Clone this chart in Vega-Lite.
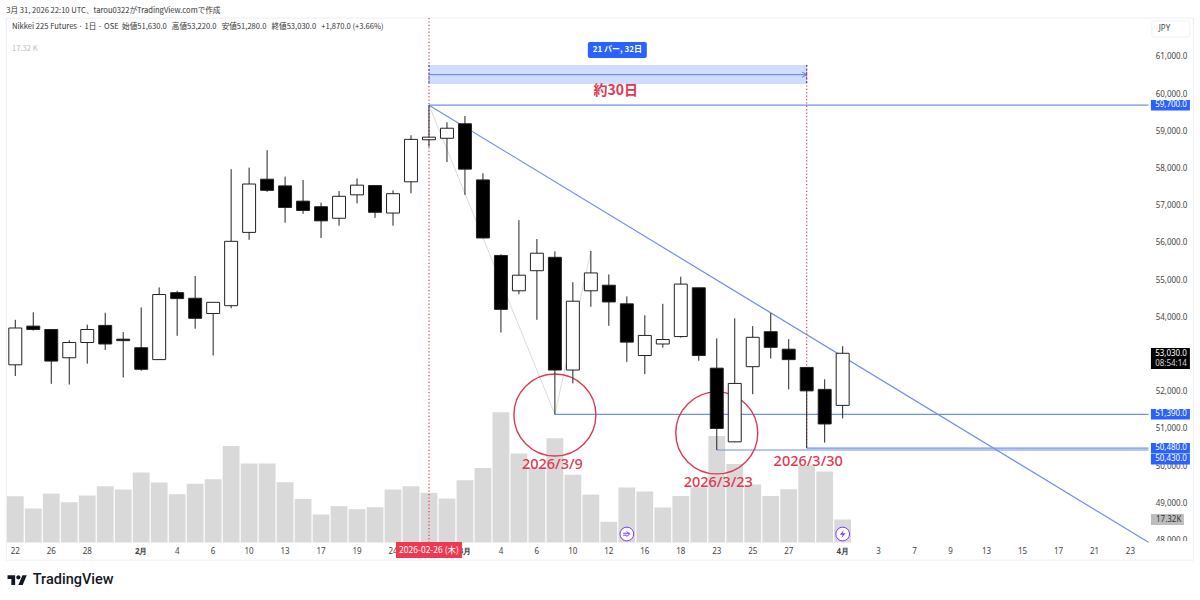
{
  "$schema": "https://vega.github.io/schema/vega-lite/v6.json",
  "width": 1187.1,
  "height": 524.5,
  "autosize": "none",
  "padding": {"left": 6.3, "top": 18, "right": 6.6, "bottom": 57.5},
  "background": "#ffffff",
  "config": {
    "view": {"stroke": null},
    "font": "Noto Sans",
    "text": {"font": "Noto Sans CJK JP"}
  },
  "title": {
    "text": "3月 31, 2026 22:10 UTC、tarou0322がTradingView.comで作成",
    "anchor": "start",
    "frame": "group",
    "offset": 3,
    "font": "Noto Sans CJK JP",
    "fontSize": 7.6,
    "fontWeight": "normal",
    "color": "#333333"
  },
  "datasets": {
    "candles": [
      {"date": "2026-01-22", "open": 52720, "high": 53930, "low": 52420, "close": 53710, "volume": 34.9},
      {"date": "2026-01-23", "open": 53760, "high": 54130, "low": 53640, "close": 53670, "volume": 25.6},
      {"date": "2026-01-26", "open": 53670, "high": 53680, "low": 52210, "close": 52820, "volume": 36.9},
      {"date": "2026-01-27", "open": 52910, "high": 53380, "low": 52190, "close": 53320, "volume": 30.4},
      {"date": "2026-01-28", "open": 53320, "high": 53800, "low": 52750, "close": 53670, "volume": 35.4},
      {"date": "2026-01-29", "open": 53780, "high": 54120, "low": 53120, "close": 53280, "volume": 42.4},
      {"date": "2026-01-30", "open": 53410, "high": 53600, "low": 52380, "close": 53370, "volume": 39.9},
      {"date": "2026-02-02", "open": 53180, "high": 54260, "low": 52560, "close": 52600, "volume": 52.7},
      {"date": "2026-02-03", "open": 52860, "high": 54800, "low": 52850, "close": 54610, "volume": 45.2},
      {"date": "2026-02-04", "open": 54660, "high": 54710, "low": 53500, "close": 54500, "volume": 36.4},
      {"date": "2026-02-05", "open": 54510, "high": 55110, "low": 53690, "close": 53970, "volume": 44.2},
      {"date": "2026-02-06", "open": 54100, "high": 54400, "low": 52970, "close": 54400, "volume": 47.7},
      {"date": "2026-02-09", "open": 54310, "high": 57980, "low": 54240, "close": 56040, "volume": 72.8},
      {"date": "2026-02-10", "open": 56280, "high": 58020, "low": 56080, "close": 57580, "volume": 59.5},
      {"date": "2026-02-12", "open": 57710, "high": 58490, "low": 57370, "close": 57410, "volume": 59.5},
      {"date": "2026-02-13", "open": 57530, "high": 57780, "low": 56540, "close": 56950, "volume": 45.4},
      {"date": "2026-02-16", "open": 57120, "high": 57690, "low": 56780, "close": 56870, "volume": 32.9},
      {"date": "2026-02-17", "open": 56970, "high": 57080, "low": 56130, "close": 56590, "volume": 21.1},
      {"date": "2026-02-18", "open": 56660, "high": 57390, "low": 56460, "close": 57250, "volume": 27.4},
      {"date": "2026-02-19", "open": 57290, "high": 57730, "low": 57060, "close": 57550, "volume": 25.1},
      {"date": "2026-02-20", "open": 57540, "high": 57550, "low": 56670, "close": 56820, "volume": 26.6},
      {"date": "2026-02-24", "open": 56800, "high": 57410, "low": 56460, "close": 57320, "volume": 39.9},
      {"date": "2026-02-25", "open": 57640, "high": 58890, "low": 57330, "close": 58780, "volume": 42.4},
      {"date": "2026-02-26", "open": 58770, "high": 59700, "low": 58580, "close": 58840, "volume": 37.4},
      {"date": "2026-02-27", "open": 58810, "high": 59240, "low": 58170, "close": 59080, "volume": 33.1},
      {"date": "2026-03-02", "open": 59200, "high": 59410, "low": 57290, "close": 57980, "volume": 46.9},
      {"date": "2026-03-03", "open": 57690, "high": 57870, "low": 56120, "close": 56130, "volume": 56.2},
      {"date": "2026-03-04", "open": 55660, "high": 55690, "low": 53590, "close": 54210, "volume": 98.1},
      {"date": "2026-03-05", "open": 54710, "high": 56610, "low": 54620, "close": 55130, "volume": 67.0},
      {"date": "2026-03-06", "open": 55250, "high": 56100, "low": 53930, "close": 55720, "volume": 56.7},
      {"date": "2026-03-09", "open": 55610, "high": 55770, "low": 51390, "close": 52580, "volume": 78.6},
      {"date": "2026-03-10", "open": 52580, "high": 54940, "low": 52220, "close": 54430, "volume": 51.0},
      {"date": "2026-03-11", "open": 54710, "high": 55780, "low": 54280, "close": 55190, "volume": 36.1},
      {"date": "2026-03-12", "open": 54860, "high": 55150, "low": 53770, "close": 54410, "volume": 15.6},
      {"date": "2026-03-13", "open": 54360, "high": 54560, "low": 52800, "close": 53330, "volume": 41.4},
      {"date": "2026-03-16", "open": 52970, "high": 54050, "low": 52470, "close": 53510, "volume": 38.4},
      {"date": "2026-03-17", "open": 53280, "high": 54360, "low": 53180, "close": 53400, "volume": 26.4},
      {"date": "2026-03-18", "open": 53480, "high": 55090, "low": 53450, "close": 54890, "volume": 35.1},
      {"date": "2026-03-19", "open": 54790, "high": 54790, "low": 52830, "close": 52970, "volume": 41.7},
      {"date": "2026-03-23", "open": 52630, "high": 53430, "low": 50430, "close": 51010, "volume": 80.3},
      {"date": "2026-03-24", "open": 50650, "high": 53970, "low": 50640, "close": 52220, "volume": 59.2},
      {"date": "2026-03-25", "open": 52670, "high": 53760, "low": 51930, "close": 53460, "volume": 43.7},
      {"date": "2026-03-26", "open": 53610, "high": 54110, "low": 52890, "close": 53190, "volume": 35.1},
      {"date": "2026-03-27", "open": 53140, "high": 53410, "low": 52060, "close": 52860, "volume": 40.2},
      {"date": "2026-03-30", "open": 52650, "high": 52660, "low": 50480, "close": 52020, "volume": 58.0},
      {"date": "2026-03-31", "open": 52060, "high": 52330, "low": 50630, "close": 51130, "volume": 53.5},
      {"date": "2026-04-01", "open": 51630, "high": 53220, "low": 51280, "close": 53030, "volume": 17.32}
    ],
    "blueLines": [
      {"id": "trend", "date": "2026-02-26", "price": 59700},
      {"id": "trend", "date": "2026-04-24", "price": 47950},
      {"id": "high", "date": "2026-02-26", "price": 59700},
      {"id": "high", "date": "2026-04-24", "price": 59700},
      {"id": "low39", "date": "2026-03-09", "price": 51390},
      {"id": "low39", "date": "2026-04-24", "price": 51390},
      {"id": "low330", "date": "2026-03-30", "price": 50480},
      {"id": "low330", "date": "2026-04-24", "price": 50480},
      {"id": "low323", "date": "2026-03-23", "price": 50430},
      {"id": "low323", "date": "2026-04-24", "price": 50430},
      {"id": "range", "date": "2026-02-26", "price": 60520},
      {"id": "range", "date": "2026-03-30", "price": 60520}
    ],
    "tags": [
      {"date": "2026-04-24", "date2": "2026-04-28", "price": 59700, "label": "59,700.0"},
      {"date": "2026-04-24", "date2": "2026-04-28", "price": 51390, "label": "51,390.0"},
      {"date": "2026-04-24", "date2": "2026-04-28", "price": 50475, "label": "50,480.0"},
      {"date": "2026-04-24", "date2": "2026-04-28", "price": 50180, "label": "50,430.0"}
    ]
  },
  "encoding": {
    "x": {
      "field": "date",
      "type": "ordinal",
      "title": null,
      "scale": {
        "type": "band",
        "paddingInner": 0,
        "paddingOuter": 0,
        "domain": ["2026-01-22", "2026-01-23", "2026-01-26", "2026-01-27", "2026-01-28", "2026-01-29", "2026-01-30", "2026-02-02", "2026-02-03", "2026-02-04", "2026-02-05", "2026-02-06", "2026-02-09", "2026-02-10", "2026-02-12", "2026-02-13", "2026-02-16", "2026-02-17", "2026-02-18", "2026-02-19", "2026-02-20", "2026-02-24", "2026-02-25", "2026-02-26", "2026-02-27", "2026-03-02", "2026-03-03", "2026-03-04", "2026-03-05", "2026-03-06", "2026-03-09", "2026-03-10", "2026-03-11", "2026-03-12", "2026-03-13", "2026-03-16", "2026-03-17", "2026-03-18", "2026-03-19", "2026-03-23", "2026-03-24", "2026-03-25", "2026-03-26", "2026-03-27", "2026-03-30", "2026-03-31", "2026-04-01", "2026-04-02", "2026-04-03", "2026-04-06", "2026-04-07", "2026-04-08", "2026-04-09", "2026-04-10", "2026-04-13", "2026-04-14", "2026-04-15", "2026-04-16", "2026-04-17", "2026-04-20", "2026-04-21", "2026-04-22", "2026-04-23", "2026-04-24", "2026-04-27", "2026-04-28"]
      },
      "axis": {
        "values": ["2026-01-22", "2026-01-26", "2026-01-28", "2026-02-02", "2026-02-04", "2026-02-06", "2026-02-10", "2026-02-13", "2026-02-17", "2026-02-19", "2026-02-24", "2026-02-26", "2026-03-02", "2026-03-04", "2026-03-06", "2026-03-10", "2026-03-12", "2026-03-16", "2026-03-18", "2026-03-23", "2026-03-25", "2026-03-27", "2026-04-01", "2026-04-03", "2026-04-07", "2026-04-09", "2026-04-13", "2026-04-15", "2026-04-17", "2026-04-21", "2026-04-23"],
        "labelExpr": "datum.value == '2026-02-02' ? '2月' : datum.value == '2026-03-02' ? '3月' : datum.value == '2026-04-01' ? '4月' : '' + toNumber(slice(datum.value, 8))",
        "labelAngle": 0,
        "labelFontSize": 8,
        "labelColor": "#444444",
        "labelPadding": 5,
        "labelOverlap": false,
        "labelFontWeight": {"condition": {"test": "datum.value == '2026-02-02' || datum.value == '2026-03-02' || datum.value == '2026-04-01'", "value": "bold"}, "value": "normal"},
        "domain": false,
        "ticks": false,
        "tickSize": 0,
        "grid": false
      }
    }
  },
  "resolve": {"scale": {"y": "independent"}},
  "layer": [
    {
      "data": {"name": "candles"},
      "mark": {"type": "bar", "width": {"band": 0.934}, "color": "#d9d9d9"},
      "encoding": {
        "y": {"field": "volume", "type": "quantitative", "axis": null, "scale": {"domain": [0, 395.3]}}
      }
    },
    {
      "encoding": {
        "y": {
          "field": "price",
          "type": "quantitative",
          "title": null,
          "scale": {"domain": [47944, 62043], "nice": false, "zero": false},
          "axis": {
            "orient": "right",
            "values": [48000, 49000, 50000, 51000, 52000, 53000, 54000, 55000, 56000, 57000, 58000, 59000, 60000, 61000],
            "format": ",.1f",
            "labelAlign": "right",
            "labelPadding": -6.5,
            "labelFontSize": 8,
            "labelColor": "#444444",
            "domain": false,
            "ticks": false,
            "tickSize": 0,
            "grid": false
          }
        }
      },
      "layer": [
        {
          "data": {"values": [{"date": "2026-01-22", "date2": "2026-04-28", "price": 47470, "price2": 62043}]},
          "mark": {"type": "rect", "fill": null, "stroke": "#eceef2", "strokeWidth": 1, "xOffset": -9, "x2Offset": 9},
          "encoding": {"x2": {"field": "date2"}, "y2": {"field": "price2"}}
        },
        {
          "data": {"values": [{"date": "2026-02-26", "date2": "2026-03-30", "price": 60780, "price2": 60270}]},
          "mark": {"type": "rect", "color": "#cfdcfc"},
          "encoding": {"x2": {"field": "date2"}, "y2": {"field": "price2"}}
        },
        {
          "data": {"values": [
            {"date": "2026-02-26", "price": 59700, "order": 1},
            {"date": "2026-03-09", "price": 51390, "order": 2},
            {"date": "2026-03-11", "price": 55780, "order": 3}
          ]},
          "mark": {"type": "line", "color": "#d0d0d0", "strokeWidth": 0.8},
          "encoding": {"order": {"field": "order"}}
        },
        {
          "data": {"name": "blueLines"},
          "mark": {"type": "line", "color": "#6f90e8", "strokeWidth": 1.2},
          "encoding": {"detail": {"field": "id"}, "order": {"field": "date"}}
        },
        {
          "data": {"values": [{"date": "2026-03-30", "price": 60520}]},
          "mark": {"type": "point", "shape": "M-1,-1L0.9,0L-1,1", "filled": false, "opacity": 1, "size": 25, "color": "#5c7fe0", "strokeWidth": 1, "xOffset": -2},
          "encoding": {}
        },
        {
          "data": {"values": [
            {"date": "2026-02-26", "price": 62043, "price2": 47957},
            {"date": "2026-03-30", "price": 60780, "price2": 50480}
          ]},
          "mark": {"type": "rule", "color": "#e2374f", "strokeWidth": 1.2, "strokeDash": [1.2, 2.2]},
          "encoding": {"y2": {"field": "price2"}}
        },
        {
          "data": {"values": [
            {"date": "2026-02-26", "price": 60780, "price2": 60270},
            {"date": "2026-03-30", "price": 60780, "price2": 60270}
          ]},
          "mark": {"type": "rule", "color": "#2f4fb0", "strokeWidth": 1, "strokeDash": [2, 2]},
          "encoding": {"y2": {"field": "price2"}}
        },
        {
          "data": {"values": [
            {"date": "2026-03-09", "price": 51370},
            {"date": "2026-03-23", "price": 50890}
          ]},
          "mark": {"type": "point", "shape": "circle", "filled": false, "opacity": 1, "size": 6724, "color": "#dd3a50", "strokeWidth": 1.4},
          "encoding": {}
        },
        {
          "data": {"name": "candles"},
          "mark": {"type": "rule", "color": "#222222", "strokeWidth": 1},
          "encoding": {
            "y": {"field": "high", "type": "quantitative"},
            "y2": {"field": "low"}
          }
        },
        {
          "data": {"name": "candles"},
          "mark": {"type": "bar", "width": {"band": 0.72}, "stroke": "#222222", "strokeWidth": 1},
          "encoding": {
            "y": {"field": "open", "type": "quantitative"},
            "y2": {"field": "close"},
            "fill": {"condition": {"test": "datum.close >= datum.open", "value": "#ffffff"}, "value": "#000000"}
          }
        },
        {
          "data": {"values": [{"date": "2026-03-13", "price": 48172}, {"date": "2026-04-01", "price": 48172}]},
          "mark": {"type": "point", "shape": "circle", "filled": true, "fill": "#ffffff", "opacity": 1, "size": 190, "stroke": "#7c3aed", "strokeWidth": 1},
          "encoding": {}
        },
        {
          "data": {"values": [{"date": "2026-03-13", "price": 48172}]},
          "mark": {"type": "point", "shape": "M-0.9,-0.2H0.7M-0.1,-0.7L0.7,0L-0.1,0.7M-0.9,0.3H0", "filled": false, "opacity": 1, "size": 64, "color": "#7c3aed", "strokeWidth": 1},
          "encoding": {}
        },
        {
          "data": {"values": [{"date": "2026-04-01", "price": 48172}]},
          "mark": {"type": "point", "shape": "M0.3,-1L-0.7,0.2H0L-0.3,1L0.7,-0.2H0Z", "filled": true, "opacity": 1, "size": 64, "color": "#7c3aed"},
          "encoding": {}
        },
        {
          "data": {"values": [{"date": "2026-03-11", "date2": "2026-03-16", "price": 61400, "price2": 60970}]},
          "mark": {"type": "rect", "color": "#2962ff", "cornerRadius": 2, "xOffset": -3, "x2Offset": 2},
          "encoding": {"x2": {"field": "date2"}, "y2": {"field": "price2"}}
        },
        {
          "data": {"values": [{"date": "2026-03-13", "price": 61180, "label": "21 バー, 32日"}]},
          "mark": {"type": "text", "color": "#ffffff", "fontSize": 8, "fontWeight": "bold", "dx": -9.5},
          "encoding": {"text": {"field": "label"}}
        },
        {
          "data": {"values": [{"date": "2026-03-12", "price": 60080, "label": "約30日"}]},
          "mark": {"type": "text", "color": "#e2374f", "fontSize": 14, "fontWeight": "bold", "dx": 7},
          "encoding": {"text": {"field": "label"}}
        },
        {
          "data": {"values": [
            {"date": "2026-03-09", "price": 50040, "label": "2026/3/9"}
          ]},
          "mark": {"type": "text", "color": "#e2374f", "font": "Noto Sans", "fontSize": 14.5, "fontWeight": 500, "dx": -2.5},
          "encoding": {"text": {"field": "label"}}
        },
        {
          "data": {"values": [
            {"date": "2026-03-23", "price": 49530, "label": "2026/3/23"},
            {"date": "2026-03-30", "price": 50110, "label": "2026/3/30"}
          ]},
          "mark": {"type": "text", "color": "#e2374f", "font": "Noto Sans", "fontSize": 14.5, "fontWeight": 500, "dx": 1.5},
          "encoding": {"text": {"field": "label"}}
        },
        {
          "data": {"values": [{"date": "2026-01-22", "price": 61800, "label": "Nikkei 225 Futures · 1日 · OSE\u00a0\u00a0始値51,630.0\u00a0\u00a0\u00a0高値53,220.0\u00a0\u00a0\u00a0安値51,280.0\u00a0\u00a0\u00a0終値53,030.0\u00a0\u00a0\u00a0+1,870.0 (+3.66%)"}]},
          "mark": {"type": "text", "align": "left", "dx": -3.3, "color": "#333333", "fontSize": 7.6},
          "encoding": {"text": {"field": "label"}}
        },
        {
          "data": {"values": [{"date": "2026-01-22", "price": 61210, "label": "17.32 K"}]},
          "mark": {"type": "text", "align": "left", "dx": -3.3, "color": "#bdbdbd", "fontSize": 7.6},
          "encoding": {"text": {"field": "label"}}
        },
        {
          "data": {"values": [{"date": "2026-04-24", "date2": "2026-04-28", "price": 47837}]},
          "mark": {"type": "rule", "color": "#ffffff", "strokeWidth": 11, "xOffset": 2, "x2Offset": 5},
          "encoding": {"x2": {"field": "date2"}}
        },
        {
          "data": {"values": [{"date": "2026-02-24", "date2": "2026-03-02", "price": 47957, "price2": 47530}]},
          "mark": {"type": "rect", "color": "#ee3a50", "xOffset": 3, "x2Offset": -3},
          "encoding": {"x2": {"field": "date2"}, "y2": {"field": "price2"}}
        },
        {
          "data": {"values": [{"date": "2026-02-26", "price": 47745, "label": "2026-02-26 (木)"}]},
          "mark": {"type": "text", "color": "#ffffff", "fontSize": 8.5},
          "encoding": {"text": {"field": "label"}}
        },
        {
          "data": {"values": [{"date": "2026-04-24", "date2": "2026-04-28", "price": 61962, "price2": 61532}]},
          "mark": {"type": "rect", "fill": "#ffffff", "stroke": "#eef0f3", "cornerRadius": 2, "xOffset": 3.5, "x2Offset": 5.5},
          "encoding": {"x2": {"field": "date2"}, "y2": {"field": "price2"}}
        },
        {
          "data": {"values": [{"date": "2026-04-27", "price": 61750, "label": "JPY"}]},
          "mark": {"type": "text", "color": "#444444", "font": "Noto Sans", "fontSize": 8, "dx": -2},
          "encoding": {"text": {"field": "label"}}
        },
        {
          "data": {"name": "tags"},
          "mark": {"type": "rule", "color": "#2962ff", "strokeWidth": 10.5, "xOffset": 2.5, "x2Offset": 5.5},
          "encoding": {"x2": {"field": "date2"}}
        },
        {
          "data": {"name": "tags"},
          "mark": {"type": "text", "color": "#ffffff", "font": "Noto Sans", "fontSize": 8, "dx": 2.5, "align": "right"},
          "encoding": {"x": {"field": "date2", "type": "ordinal"}, "text": {"field": "label"}}
        },
        {
          "data": {"values": [{"date": "2026-04-24", "date2": "2026-04-28", "price": 52890}]},
          "mark": {"type": "rule", "color": "#000000", "strokeWidth": 21, "xOffset": 2.5, "x2Offset": 5.5},
          "encoding": {"x2": {"field": "date2"}}
        },
        {
          "data": {"values": [{"date": "2026-04-28", "price": 53010, "label": "53,030.0"}]},
          "mark": {"type": "text", "color": "#ffffff", "font": "Noto Sans", "fontSize": 8, "dx": 2.5, "align": "right"},
          "encoding": {"text": {"field": "label"}}
        },
        {
          "data": {"values": [{"date": "2026-04-28", "price": 52740, "label": "08:54:14"}]},
          "mark": {"type": "text", "color": "#d8d8d8", "font": "Noto Sans", "fontSize": 8, "dx": 2.5, "align": "right"},
          "encoding": {"text": {"field": "label"}}
        },
        {
          "data": {"values": [{"date": "2026-04-24", "date2": "2026-04-28", "price": 48560}]},
          "mark": {"type": "rule", "color": "#bdbdbd", "strokeWidth": 11, "xOffset": 2.5, "x2Offset": -0.5},
          "encoding": {"x2": {"field": "date2"}}
        },
        {
          "data": {"values": [{"date": "2026-04-28", "price": 48560, "label": "17.32K"}]},
          "mark": {"type": "text", "color": "#333333", "font": "Noto Sans", "fontSize": 8, "dx": -3, "align": "right"},
          "encoding": {"text": {"field": "label"}}
        },
        {
          "data": {"values": [{"date": "2026-01-22", "price": 46935}]},
          "mark": {"type": "point", "shape": "M-0.222,0.5H-0.611V-0.111H-1V-0.5H-0.222ZM0.556,0.5H0.111L0.528,-0.5H0.972ZM-0.111,-0.278A0.222,0.222 0 1 0 0.333,-0.278A0.222,0.222 0 1 0 -0.111,-0.278Z", "filled": true, "opacity": 1, "size": 380, "color": "#131722", "xOffset": 2},
          "encoding": {}
        },
        {
          "data": {"values": [{"date": "2026-01-22", "price": 46935, "label": "TradingView"}]},
          "mark": {"type": "text", "align": "left", "color": "#131722", "font": "Roboto", "fontSize": 14.5, "fontWeight": 500, "dx": 17.5},
          "encoding": {"text": {"field": "label"}}
        }
      ]
    }
  ]
}
